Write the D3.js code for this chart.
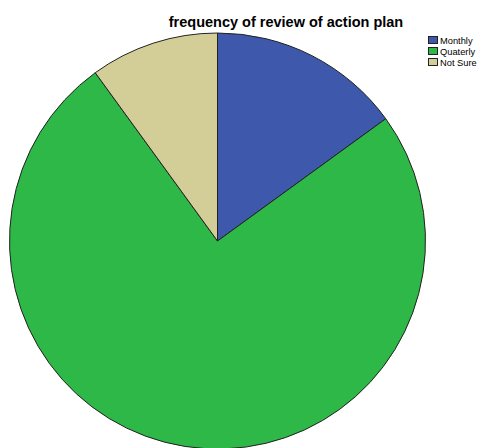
<!DOCTYPE html>
<html lang="en">
<head>
<meta charset="UTF-8">
<title>frequency of review of action plan</title>
<script src="https://d3js.org/d3.v7.min.js"></script>
<style>
    body { margin: 0; background: #fff; }
    svg { display: block; font-family: Arial, "Liberation Sans", sans-serif; }
</style>
</head>
<body>
<div id="chart"></div>
<script>
    // Données
    const categories = ["Monthly", "Quaterly", "Not Sure"];
    const values = [3, 15, 2];
    const colors = ["#3e58ac", "#2eb848", "#d3ce97"];

    const width = 479, height = 448;
    const cx = 217.5, cy = 241, radius = 208;

    const svg = d3.select("#chart").append("svg")
        .attr("width", width).attr("height", height);

    // Titre
    svg.append("text")
        .attr("x", 286).attr("y", 27)
        .attr("text-anchor", "middle")
        .style("font-size", "14.5px").style("font-weight", "bold")
        .text("frequency of review of action plan");

    const pie = d3.pie().sort(null).value(d => d.value);
    const arc = d3.arc().innerRadius(0).outerRadius(radius);
    const data = categories.map((c, i) => ({ name: c, value: values[i], color: colors[i] }));

    svg.append("g")
        .attr("transform", `translate(${cx},${cy})`)
        .selectAll("path")
        .data(pie(data))
        .enter().append("path")
        .attr("d", arc)
        .attr("fill", d => d.data.color)
        .attr("stroke", "#222")
        .attr("stroke-width", 1);

    // Légende
    const legend = svg.append("g").attr("transform", "translate(428,36)");
    const item = legend.selectAll("g").data(data).enter().append("g")
        .attr("transform", (d, i) => `translate(0,${i * 11})`);
    item.append("rect")
        .attr("x", 0.5).attr("y", 0.5).attr("width", 9).attr("height", 7)
        .attr("fill", d => d.color).attr("stroke", "#222").attr("stroke-width", 1);
    item.append("text")
        .attr("x", 12).attr("y", 7.5)
        .style("font-size", "9.3px")
        .text(d => d.name);
</script>
</body>
</html>
